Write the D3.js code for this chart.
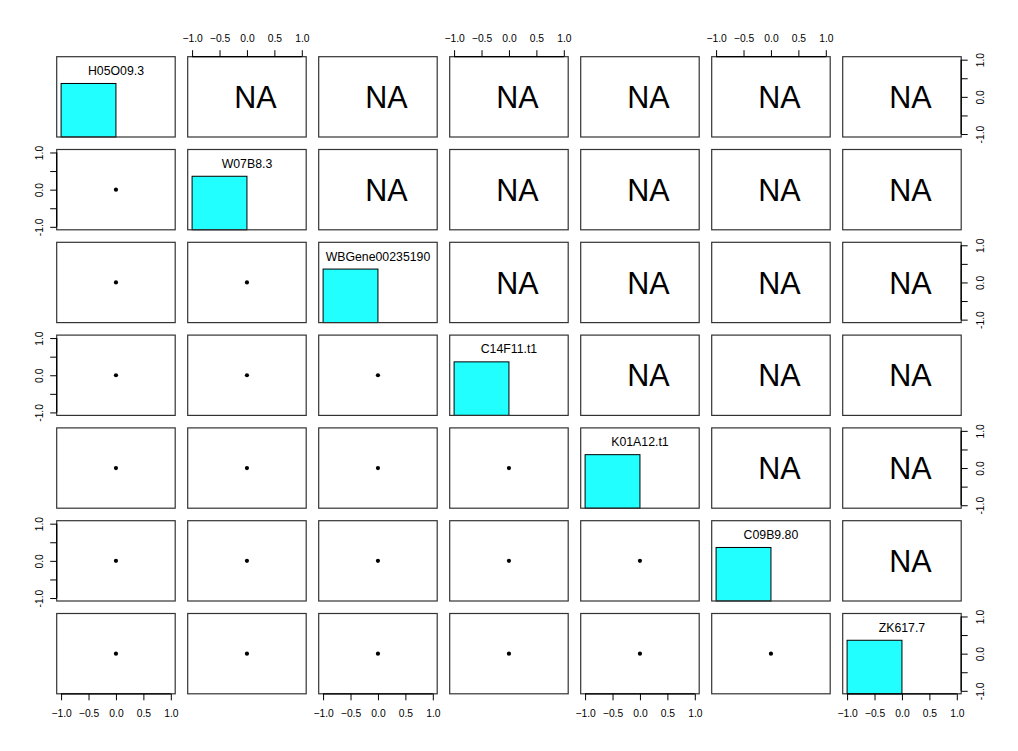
<!DOCTYPE html>
<html><head><meta charset="utf-8">
<script src="https://cdn.jsdelivr.net/npm/d3@7"></script>
<style>body{margin:0;background:#fff}svg{display:block}text{font-family:"Liberation Sans",Arial,sans-serif}</style>
</head><body><svg id="c" width="1018" height="751"></svg>
<script>
const genes = ["H05O09.3","W07B8.3","WBGene00235190","C14F11.t1","K01A12.t1","C09B9.80","ZK617.7"];
const geneValues = [[0],[0],[0],[0],[0],[0],[0]];
const histStart = [-1];
const histEnd = [0];
const histCounts = [1];
const tickValues = [-1.0,-0.5,0.0,0.5,1.0];
const yTickLabels = ["-1.0","","0.0","","1.0"];
const corText = "NA";

const svg = d3.select("#c");
const n = genes.length;
const x0 = 56.7, pitchX = 131, w = 118.5;
const y0 = 56.7, pitchY = 92.8, h = 80.3;
const fmt = d3.format(".1f");
const yFmt = (d, i) => yTickLabels[i];

for (let r = 0; r < n; r++) {
  for (let c = 0; c < n; c++) {
    const px = x0 + c * pitchX, py = y0 + r * pitchY;
    const g = svg.append("g").attr("transform", `translate(${px},${py})`);
    const xs = d3.scaleLinear().domain([-1.08, 1.08]).range([0, w]);
    const ys = d3.scaleLinear().domain([-1.08, 1.08]).range([h, 0]);
    if (r === c) {
      const yh = d3.scaleLinear().domain([0, 1.5]).range([h, 0]);
      const mx = d3.max(histCounts);
      g.selectAll("rect.bar").data(histCounts).enter().append("rect")
        .attr("x", (d, i) => xs(histStart[i]))
        .attr("width", (d, i) => xs(histEnd[i]) - xs(histStart[i]))
        .attr("y", d => yh(d / mx))
        .attr("height", d => h - yh(d / mx))
        .attr("fill", "#22FFFF").attr("stroke", "#000").attr("stroke-width", 1);
      g.append("text").attr("x", w / 2).attr("y", 18.3)
        .attr("text-anchor", "middle").attr("font-size", 12.3).text(genes[r]);
    } else if (r > c) {
      g.selectAll("circle").data(geneValues[c].map((v, i) => [v, geneValues[r][i]])).enter()
        .append("circle").attr("cx", d => xs(d[0])).attr("cy", d => ys(d[1]))
        .attr("r", 2.1).attr("fill", "#000");
    } else {
      g.append("text").attr("x", w / 2 + 8.5).attr("y", h / 2 + 11.2)
        .attr("text-anchor", "middle").attr("font-size", 30.5).text(corText);
    }
    g.append("rect").attr("x", 0).attr("y", 0).attr("width", w).attr("height", h)
      .attr("fill", "none").attr("stroke", "#333").attr("stroke-width", 1.2);

    const styleAxis = (sel) => {
      sel.selectAll("path.domain").attr("stroke", "#000").attr("stroke-width", 1.3);
      sel.selectAll(".tick line").attr("stroke", "#000").attr("stroke-width", 1);
      sel.selectAll(".tick text").attr("font-size", 10.3).attr("font-family", '"Liberation Sans",Arial,sans-serif').attr("fill", "#000");
    };
    if (r === 0 && c % 2 === 1) {
      const a = g.append("g").call(d3.axisTop(xs).tickValues(tickValues).tickFormat(fmt).tickSizeInner(6.5).tickSizeOuter(0).tickPadding(8));
      a.select("path.domain").attr("d", `M${xs(-1)},0H${xs(1)}`);
      styleAxis(a);
    }
    if (r === n - 1 && c % 2 === 0) {
      const a = g.append("g").attr("transform", `translate(0,${h})`)
        .call(d3.axisBottom(xs).tickValues(tickValues).tickFormat(fmt).tickSizeInner(6.5).tickSizeOuter(0).tickPadding(9));
      a.select("path.domain").attr("d", `M${xs(-1)},0H${xs(1)}`);
      styleAxis(a);
    }
    if (c === 0 && r % 2 === 1) {
      const a = g.append("g").call(d3.axisLeft(ys).tickValues(tickValues).tickFormat(yFmt).tickSizeInner(6.5).tickSizeOuter(0));
      a.select("path.domain").attr("d", `M0,${ys(-1)}V${ys(1)}`);
      styleAxis(a);
      a.selectAll(".tick text").attr("x", 0).attr("dy", null).attr("transform", "translate(-17.5,0) rotate(-90)")
        .attr("text-anchor", "middle").attr("dominant-baseline", "central");
    }
    if (c === n - 1 && r % 2 === 0) {
      const a = g.append("g").attr("transform", `translate(${w},0)`)
        .call(d3.axisRight(ys).tickValues(tickValues).tickFormat(yFmt).tickSizeInner(6.5).tickSizeOuter(0));
      a.select("path.domain").attr("d", `M0,${ys(-1)}V${ys(1)}`);
      styleAxis(a);
      a.selectAll(".tick text").attr("x", 0).attr("dy", null).attr("transform", "translate(19.5,0) rotate(-90)")
        .attr("text-anchor", "middle").attr("dominant-baseline", "central");
    }
  }
}
</script></body></html>
